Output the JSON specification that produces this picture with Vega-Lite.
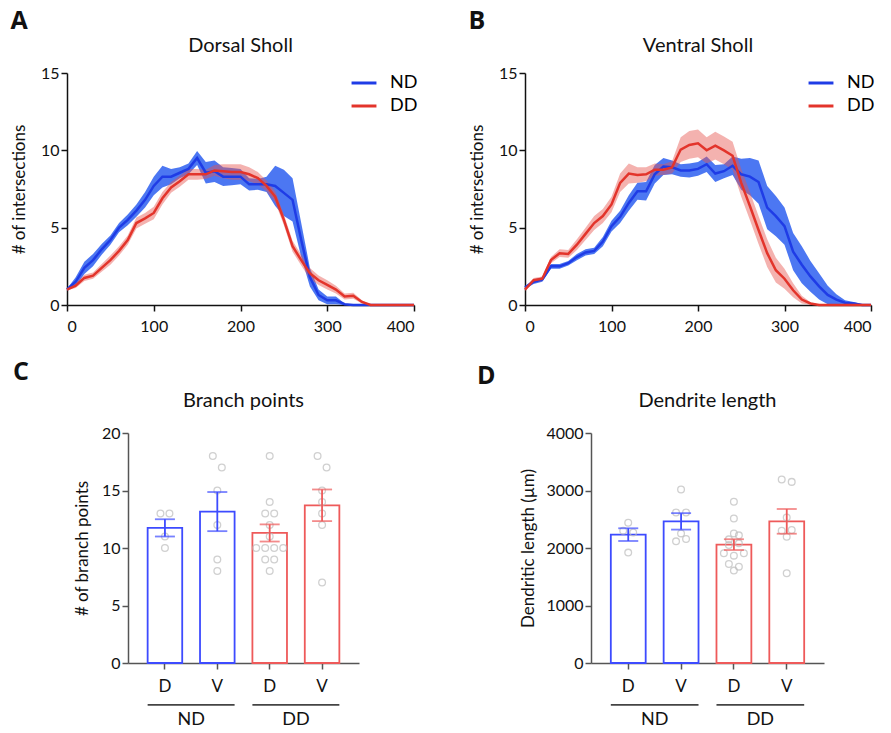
{
  "$schema": "https://vega.github.io/schema/vega-lite/v6.json",
  "padding": {"left": 10, "top": 9, "right": 5, "bottom": 2},
  "config": {
    "view": {"stroke": null},
    "font": "Lato",
    "axis": {"labelFontSize": 16, "titleFontSize": 17, "titleFontWeight": "normal", "labelColor": "#111", "titleColor": "#111", "domainColor": "#111", "tickColor": "#111", "grid": false, "domainWidth": 1.5, "tickWidth": 1.5, "tickSize": 6, "labelFont": "Lato", "titleFont": "Lato"},
    "title": {"fontSize": 20, "fontWeight": "normal", "font": "Lato", "color": "#111"},
    "legend": {"labelFont": "Lato"}
  },
  "datasets": {
    "dorsal": [
      {"r":0,"g":"ND","m":1.0,"lo":0.95,"hi":1.05},{"r":10,"g":"ND","m":1.5,"lo":1.2,"hi":1.8},{"r":20,"g":"ND","m":2.4,"lo":2.0,"hi":2.8},{"r":30,"g":"ND","m":2.9,"lo":2.5,"hi":3.3},{"r":40,"g":"ND","m":3.6,"lo":3.25,"hi":3.95},{"r":50,"g":"ND","m":4.2,"lo":3.9,"hi":4.5},{"r":60,"g":"ND","m":5.0,"lo":4.7,"hi":5.3},{"r":70,"g":"ND","m":5.5,"lo":5.15,"hi":5.85},{"r":80,"g":"ND","m":6.1,"lo":5.7,"hi":6.5},{"r":90,"g":"ND","m":6.8,"lo":6.3,"hi":7.3},{"r":100,"g":"ND","m":7.7,"lo":7.1,"hi":8.3},{"r":110,"g":"ND","m":8.3,"lo":7.6,"hi":9.0},{"r":120,"g":"ND","m":8.3,"lo":7.8,"hi":8.8},{"r":130,"g":"ND","m":8.55,"lo":8.2,"hi":8.9},{"r":140,"g":"ND","m":8.8,"lo":8.45,"hi":9.15},{"r":150,"g":"ND","m":9.5,"lo":9.05,"hi":9.95},{"r":160,"g":"ND","m":8.55,"lo":7.85,"hi":9.25},{"r":170,"g":"ND","m":8.65,"lo":7.95,"hi":9.35},{"r":180,"g":"ND","m":8.3,"lo":7.7,"hi":8.9},{"r":190,"g":"ND","m":8.3,"lo":7.75,"hi":8.85},{"r":200,"g":"ND","m":8.3,"lo":7.8,"hi":8.8},{"r":210,"g":"ND","m":7.8,"lo":7.4,"hi":8.2},{"r":220,"g":"ND","m":7.8,"lo":7.45,"hi":8.15},{"r":230,"g":"ND","m":7.8,"lo":7.3,"hi":8.3},{"r":240,"g":"ND","m":7.7,"lo":6.4,"hi":9.0},{"r":250,"g":"ND","m":7.25,"lo":5.75,"hi":8.75},{"r":260,"g":"ND","m":6.8,"lo":5.4,"hi":8.2},{"r":270,"g":"ND","m":4.2,"lo":3.1,"hi":5.3},{"r":280,"g":"ND","m":1.8,"lo":1.2,"hi":2.4},{"r":290,"g":"ND","m":0.65,"lo":0.3,"hi":1.0},{"r":300,"g":"ND","m":0.3,"lo":0.05,"hi":0.55},{"r":310,"g":"ND","m":0.3,"lo":0.05,"hi":0.55},{"r":320,"g":"ND","m":0.05,"lo":0,"hi":0.1},{"r":330,"g":"ND","m":0,"lo":0,"hi":0},{"r":340,"g":"ND","m":0,"lo":0,"hi":0},{"r":350,"g":"ND","m":0,"lo":0,"hi":0},{"r":360,"g":"ND","m":0,"lo":0,"hi":0},{"r":370,"g":"ND","m":0,"lo":0,"hi":0},{"r":380,"g":"ND","m":0,"lo":0,"hi":0},{"r":390,"g":"ND","m":0,"lo":0,"hi":0},{"r":400,"g":"ND","m":0,"lo":0,"hi":0},
      {"r":0,"g":"DD","m":1.0,"lo":0.95,"hi":1.05},{"r":10,"g":"DD","m":1.25,"lo":1.1,"hi":1.4},{"r":20,"g":"DD","m":1.75,"lo":1.55,"hi":1.95},{"r":30,"g":"DD","m":1.9,"lo":1.7,"hi":2.1},{"r":40,"g":"DD","m":2.4,"lo":2.15,"hi":2.65},{"r":50,"g":"DD","m":2.9,"lo":2.6,"hi":3.2},{"r":60,"g":"DD","m":3.5,"lo":3.2,"hi":3.8},{"r":70,"g":"DD","m":4.2,"lo":3.9,"hi":4.5},{"r":80,"g":"DD","m":5.3,"lo":4.95,"hi":5.65},{"r":90,"g":"DD","m":5.6,"lo":5.25,"hi":5.95},{"r":100,"g":"DD","m":5.95,"lo":5.55,"hi":6.35},{"r":110,"g":"DD","m":6.9,"lo":6.5,"hi":7.3},{"r":120,"g":"DD","m":7.6,"lo":7.25,"hi":7.95},{"r":130,"g":"DD","m":8.0,"lo":7.65,"hi":8.35},{"r":140,"g":"DD","m":8.45,"lo":8.1,"hi":8.8},{"r":150,"g":"DD","m":8.45,"lo":8.1,"hi":8.8},{"r":160,"g":"DD","m":8.45,"lo":8.15,"hi":8.75},{"r":170,"g":"DD","m":8.7,"lo":8.35,"hi":9.05},{"r":180,"g":"DD","m":8.65,"lo":8.2,"hi":9.1},{"r":190,"g":"DD","m":8.6,"lo":8.1,"hi":9.1},{"r":200,"g":"DD","m":8.6,"lo":8.1,"hi":9.1},{"r":210,"g":"DD","m":8.45,"lo":8.0,"hi":8.9},{"r":220,"g":"DD","m":8.2,"lo":7.8,"hi":8.6},{"r":230,"g":"DD","m":7.7,"lo":7.35,"hi":8.05},{"r":240,"g":"DD","m":7.0,"lo":6.65,"hi":7.35},{"r":250,"g":"DD","m":5.5,"lo":5.15,"hi":5.85},{"r":260,"g":"DD","m":3.8,"lo":3.45,"hi":4.15},{"r":270,"g":"DD","m":2.9,"lo":2.55,"hi":3.25},{"r":280,"g":"DD","m":2.05,"lo":1.7,"hi":2.4},{"r":290,"g":"DD","m":1.6,"lo":1.3,"hi":1.9},{"r":300,"g":"DD","m":1.3,"lo":1.0,"hi":1.6},{"r":310,"g":"DD","m":1.0,"lo":0.75,"hi":1.25},{"r":320,"g":"DD","m":0.55,"lo":0.35,"hi":0.75},{"r":330,"g":"DD","m":0.6,"lo":0.4,"hi":0.8},{"r":340,"g":"DD","m":0.2,"lo":0.1,"hi":0.3},{"r":350,"g":"DD","m":0,"lo":0,"hi":0},{"r":360,"g":"DD","m":0,"lo":0,"hi":0},{"r":370,"g":"DD","m":0,"lo":0,"hi":0},{"r":380,"g":"DD","m":0,"lo":0,"hi":0},{"r":390,"g":"DD","m":0,"lo":0,"hi":0},{"r":400,"g":"DD","m":0,"lo":0,"hi":0}
    ],
    "ventral": [
      {"r":0,"g":"ND","m":1.13,"lo":1.03,"hi":1.23},{"r":10,"g":"ND","m":1.5,"lo":1.35,"hi":1.65},{"r":20,"g":"ND","m":1.65,"lo":1.5,"hi":1.8},{"r":30,"g":"ND","m":2.5,"lo":2.35,"hi":2.65},{"r":40,"g":"ND","m":2.5,"lo":2.35,"hi":2.65},{"r":50,"g":"ND","m":2.7,"lo":2.55,"hi":2.85},{"r":60,"g":"ND","m":3.1,"lo":2.9,"hi":3.3},{"r":70,"g":"ND","m":3.4,"lo":3.2,"hi":3.6},{"r":80,"g":"ND","m":3.5,"lo":3.3,"hi":3.7},{"r":90,"g":"ND","m":4.1,"lo":3.8,"hi":4.4},{"r":100,"g":"ND","m":5.1,"lo":4.75,"hi":5.45},{"r":110,"g":"ND","m":5.7,"lo":5.3,"hi":6.1},{"r":120,"g":"ND","m":6.6,"lo":6.1,"hi":7.1},{"r":130,"g":"ND","m":7.35,"lo":6.8,"hi":7.9},{"r":140,"g":"ND","m":7.35,"lo":6.75,"hi":7.95},{"r":150,"g":"ND","m":8.45,"lo":7.85,"hi":9.05},{"r":160,"g":"ND","m":8.95,"lo":8.4,"hi":9.5},{"r":170,"g":"ND","m":8.9,"lo":8.45,"hi":9.35},{"r":180,"g":"ND","m":8.7,"lo":8.3,"hi":9.1},{"r":190,"g":"ND","m":8.7,"lo":8.25,"hi":9.15},{"r":200,"g":"ND","m":8.8,"lo":8.35,"hi":9.25},{"r":210,"g":"ND","m":9.1,"lo":8.6,"hi":9.6},{"r":220,"g":"ND","m":8.5,"lo":7.95,"hi":9.05},{"r":230,"g":"ND","m":8.65,"lo":8.2,"hi":9.1},{"r":240,"g":"ND","m":9.0,"lo":8.4,"hi":9.6},{"r":250,"g":"ND","m":8.45,"lo":7.45,"hi":9.45},{"r":260,"g":"ND","m":8.3,"lo":7.1,"hi":9.5},{"r":270,"g":"ND","m":7.95,"lo":6.55,"hi":9.35},{"r":280,"g":"ND","m":6.3,"lo":4.9,"hi":7.7},{"r":290,"g":"ND","m":5.75,"lo":4.45,"hi":7.05},{"r":300,"g":"ND","m":5.1,"lo":3.9,"hi":6.3},{"r":310,"g":"ND","m":3.45,"lo":2.25,"hi":4.65},{"r":320,"g":"ND","m":2.6,"lo":1.4,"hi":3.8},{"r":330,"g":"ND","m":1.85,"lo":0.85,"hi":2.85},{"r":340,"g":"ND","m":1.2,"lo":0.35,"hi":2.05},{"r":350,"g":"ND","m":0.65,"lo":0.05,"hi":1.25},{"r":360,"g":"ND","m":0.35,"lo":0,"hi":0.7},{"r":370,"g":"ND","m":0.15,"lo":0,"hi":0.3},{"r":380,"g":"ND","m":0.1,"lo":0,"hi":0.2},{"r":390,"g":"ND","m":0,"lo":0,"hi":0.05},{"r":400,"g":"ND","m":0,"lo":0,"hi":0},
      {"r":0,"g":"DD","m":1.0,"lo":0.9,"hi":1.1},{"r":10,"g":"DD","m":1.6,"lo":1.45,"hi":1.75},{"r":20,"g":"DD","m":1.7,"lo":1.55,"hi":1.85},{"r":30,"g":"DD","m":2.9,"lo":2.7,"hi":3.1},{"r":40,"g":"DD","m":3.35,"lo":3.1,"hi":3.6},{"r":50,"g":"DD","m":3.3,"lo":3.05,"hi":3.55},{"r":60,"g":"DD","m":3.9,"lo":3.55,"hi":4.25},{"r":70,"g":"DD","m":4.6,"lo":4.2,"hi":5.0},{"r":80,"g":"DD","m":5.3,"lo":4.85,"hi":5.75},{"r":90,"g":"DD","m":5.75,"lo":5.3,"hi":6.2},{"r":100,"g":"DD","m":6.5,"lo":6.0,"hi":7.0},{"r":110,"g":"DD","m":7.9,"lo":7.3,"hi":8.5},{"r":120,"g":"DD","m":8.5,"lo":7.85,"hi":9.15},{"r":130,"g":"DD","m":8.4,"lo":7.9,"hi":8.9},{"r":140,"g":"DD","m":8.45,"lo":8.0,"hi":8.9},{"r":150,"g":"DD","m":8.75,"lo":8.35,"hi":9.15},{"r":160,"g":"DD","m":8.75,"lo":8.4,"hi":9.1},{"r":170,"g":"DD","m":8.9,"lo":8.5,"hi":9.3},{"r":180,"g":"DD","m":10.05,"lo":9.25,"hi":10.85},{"r":190,"g":"DD","m":10.35,"lo":9.45,"hi":11.25},{"r":200,"g":"DD","m":10.45,"lo":9.55,"hi":11.35},{"r":210,"g":"DD","m":10.0,"lo":9.15,"hi":10.85},{"r":220,"g":"DD","m":10.3,"lo":9.4,"hi":11.2},{"r":230,"g":"DD","m":10.0,"lo":9.1,"hi":10.9},{"r":240,"g":"DD","m":9.65,"lo":8.75,"hi":10.55},{"r":250,"g":"DD","m":7.9,"lo":7.0,"hi":8.8},{"r":260,"g":"DD","m":6.4,"lo":5.5,"hi":7.3},{"r":270,"g":"DD","m":4.85,"lo":3.95,"hi":5.75},{"r":280,"g":"DD","m":3.35,"lo":2.45,"hi":4.25},{"r":290,"g":"DD","m":2.25,"lo":1.45,"hi":3.05},{"r":300,"g":"DD","m":1.7,"lo":1.05,"hi":2.35},{"r":310,"g":"DD","m":0.95,"lo":0.5,"hi":1.4},{"r":320,"g":"DD","m":0.35,"lo":0.1,"hi":0.6},{"r":330,"g":"DD","m":0.1,"lo":0.02,"hi":0.18},{"r":340,"g":"DD","m":0,"lo":0,"hi":0},{"r":350,"g":"DD","m":0,"lo":0,"hi":0},{"r":360,"g":"DD","m":0,"lo":0,"hi":0},{"r":370,"g":"DD","m":0,"lo":0,"hi":0},{"r":380,"g":"DD","m":0,"lo":0,"hi":0},{"r":390,"g":"DD","m":0,"lo":0,"hi":0},{"r":400,"g":"DD","m":0,"lo":0,"hi":0}
    ],
    "branch": [
      {"grp":"ND","cond":"ND D","v":13},{"grp":"ND","cond":"ND D","v":13},{"grp":"ND","cond":"ND D","v":11},{"grp":"ND","cond":"ND D","v":10},
      {"grp":"ND","cond":"ND V","v":18},{"grp":"ND","cond":"ND V","v":17},{"grp":"ND","cond":"ND V","v":15},{"grp":"ND","cond":"ND V","v":12},{"grp":"ND","cond":"ND V","v":9},{"grp":"ND","cond":"ND V","v":8},
      {"grp":"DD","cond":"DD D","v":18},{"grp":"DD","cond":"DD D","v":14},{"grp":"DD","cond":"DD D","v":13},{"grp":"DD","cond":"DD D","v":13},{"grp":"DD","cond":"DD D","v":12},{"grp":"DD","cond":"DD D","v":11},{"grp":"DD","cond":"DD D","v":10},{"grp":"DD","cond":"DD D","v":10},{"grp":"DD","cond":"DD D","v":10},{"grp":"DD","cond":"DD D","v":10},{"grp":"DD","cond":"DD D","v":9},{"grp":"DD","cond":"DD D","v":9},{"grp":"DD","cond":"DD D","v":8},
      {"grp":"DD","cond":"DD V","v":18},{"grp":"DD","cond":"DD V","v":17},{"grp":"DD","cond":"DD V","v":15},{"grp":"DD","cond":"DD V","v":14},{"grp":"DD","cond":"DD V","v":13},{"grp":"DD","cond":"DD V","v":12},{"grp":"DD","cond":"DD V","v":7}
    ],
    "length": [
      {"grp":"ND","cond":"ND D","v":2300},{"grp":"ND","cond":"ND D","v":2270},{"grp":"ND","cond":"ND D","v":2440},{"grp":"ND","cond":"ND D","v":1920},
      {"grp":"ND","cond":"ND V","v":3017},{"grp":"ND","cond":"ND V","v":2618},{"grp":"ND","cond":"ND V","v":2618},{"grp":"ND","cond":"ND V","v":2254},{"grp":"ND","cond":"ND V","v":2116},{"grp":"ND","cond":"ND V","v":2156},
      {"grp":"DD","cond":"DD D","v":2803},{"grp":"DD","cond":"DD D","v":2514},{"grp":"DD","cond":"DD D","v":2254},{"grp":"DD","cond":"DD D","v":2150},{"grp":"DD","cond":"DD D","v":2220},{"grp":"DD","cond":"DD D","v":2052},{"grp":"DD","cond":"DD D","v":2081},{"grp":"DD","cond":"DD D","v":1908},{"grp":"DD","cond":"DD D","v":1867},{"grp":"DD","cond":"DD D","v":1908},{"grp":"DD","cond":"DD D","v":1723},{"grp":"DD","cond":"DD D","v":1676},{"grp":"DD","cond":"DD D","v":1607},
      {"grp":"DD","cond":"DD V","v":3191},{"grp":"DD","cond":"DD V","v":3150},{"grp":"DD","cond":"DD V","v":2532},{"grp":"DD","cond":"DD V","v":2300},{"grp":"DD","cond":"DD V","v":2312},{"grp":"DD","cond":"DD V","v":2197},{"grp":"DD","cond":"DD V","v":1561}
    ],
    "groups": [{"grp":"ND","s":"ND D","e":"ND V"},{"grp":"DD","s":"DD D","e":"DD V"}]
  },
  "vconcat": [
    {
      "hconcat": [
        {
          "title": {"text": "A", "anchor": "start", "frame": "bounds", "fontSize": 25, "fontWeight": "bold", "font": "Open Sans", "offset": 2},
          "vconcat": [{
            "width": 347, "height": 232,
            "title": {"text": "Dorsal Sholl", "offset": 9},
            "data": {"name": "dorsal"},
            "encoding": {
              "x": {"field": "r", "type": "quantitative", "scale": {"domain": [0, 400], "nice": false}, "axis": {"values": [0,100,200,300,400], "title": null, "labelPadding": 7}}
            },
            "layer": [
              {"transform": [{"filter": "datum.g === 'ND'"}], "mark": {"type": "area", "color": "#2d5ff0", "opacity": 0.85}, "encoding": {
                "y": {"field": "lo", "type": "quantitative", "scale": {"domain": [0, 15], "nice": false}, "axis": {"values": [0,5,10,15], "titlePadding": 12}, "title": "# of intersections"},
                "y2": {"field": "hi"}
              }},
              {"transform": [{"filter": "datum.g === 'DD'"}], "mark": {"type": "area", "color": "#e6554e", "opacity": 0.45}, "encoding": {
                "y": {"field": "lo", "type": "quantitative", "title": "# of intersections"},
                "y2": {"field": "hi"}
              }},
              {"mark": {"type": "line", "strokeWidth": 2.5}, "encoding": {
                "y": {"field": "m", "type": "quantitative", "title": "# of intersections"},
                "color": {"field": "g", "type": "nominal", "scale": {"domain": ["ND","DD"], "range": ["#1f3ce6", "#e3342b"]},
                  "legend": {"title": null, "orient": "top-right", "offset": -4, "symbolType": "stroke", "symbolSize": 620, "symbolStrokeWidth": 3, "labelFontSize": 18, "rowPadding": -1, "labelOffset": 12}}
              }}
            ]
          }],
          "resolve": {"scale": {"color": "independent"}, "legend": {"color": "independent"}}
        },
        {
          "title": {"text": "B", "anchor": "start", "frame": "bounds", "fontSize": 25, "fontWeight": "bold", "font": "Open Sans", "offset": 2},
          "vconcat": [{
            "width": 346, "height": 232,
            "title": {"text": "Ventral Sholl", "offset": 9},
            "data": {"name": "ventral"},
            "encoding": {
              "x": {"field": "r", "type": "quantitative", "scale": {"domain": [0, 400], "nice": false}, "axis": {"values": [0,100,200,300,400], "title": null, "labelPadding": 7}}
            },
            "layer": [
              {"transform": [{"filter": "datum.g === 'ND'"}], "mark": {"type": "area", "color": "#2d5ff0", "opacity": 0.85}, "encoding": {
                "y": {"field": "lo", "type": "quantitative", "scale": {"domain": [0, 15], "nice": false}, "axis": {"values": [0,5,10,15], "titlePadding": 12}, "title": "# of intersections"},
                "y2": {"field": "hi"}
              }},
              {"transform": [{"filter": "datum.g === 'DD'"}], "mark": {"type": "area", "color": "#e6554e", "opacity": 0.45}, "encoding": {
                "y": {"field": "lo", "type": "quantitative", "title": "# of intersections"},
                "y2": {"field": "hi"}
              }},
              {"mark": {"type": "line", "strokeWidth": 2.5}, "encoding": {
                "y": {"field": "m", "type": "quantitative", "title": "# of intersections"},
                "color": {"field": "g", "type": "nominal", "scale": {"domain": ["ND","DD"], "range": ["#1f3ce6", "#e3342b"]},
                  "legend": {"title": null, "orient": "top-right", "offset": -4, "symbolType": "stroke", "symbolSize": 620, "symbolStrokeWidth": 3, "labelFontSize": 18, "rowPadding": -1, "labelOffset": 12}}
              }}
            ]
          }],
          "resolve": {"scale": {"color": "independent"}, "legend": {"color": "independent"}}
        }
      ],
      "spacing": 49,
      "resolve": {"scale": {"color": "independent"}, "legend": {"color": "independent"}}
    },
    {
      "hconcat": [
        {
          "hconcat": [
            {
              "width": 6, "height": 230,
              "title": {"text": "C", "anchor": "start", "fontSize": 25, "fontWeight": "bold", "font": "Open Sans", "offset": 48, "dx": -54},
              "data": {"values": []},
              "mark": "point",
              "encoding": {}
            },
            {
              "width": 231, "height": 230,
              "title": {"text": "Branch points", "offset": 14},
              "layer": [
                {
                  "data": {"name": "branch"},
                  "transform": [
                    {"bin": {"step": 1}, "field": "v", "as": "vb"},
                    {"window": [{"op": "row_number", "as": "k"}, {"op": "count", "as": "n"}], "groupby": ["cond", "vb"], "frame": [null, null]},
                    {"calculate": "datum.k - (datum.n + 1) / 2", "as": "off"}
                  ],
                  "layer": [
                    {"mark": {"type": "bar", "fill": "white", "strokeWidth": 1.8}, "encoding": {
                      "x": {"field": "cond", "type": "nominal", "scale": {"type": "band", "domain": ["ND D","ND V","DD D","DD V"], "paddingInner": 0.34, "paddingOuter": 0.375}, "axis": {"title": null, "labelExpr": "slice(datum.label, -1)", "labelAngle": 0, "labelFontSize": 17, "labelPadding": 9, "domainColor": "#555", "tickColor": "#555"}},
                      "y": {"aggregate": "mean", "field": "v", "type": "quantitative", "title": "# of branch points", "scale": {"domain": [0, 20], "nice": false}, "axis": {"values": [0,5,10,15,20], "titlePadding": 10, "domainColor": "#555", "tickColor": "#555"}},
                      "stroke": {"field": "grp", "type": "nominal", "scale": {"domain": ["ND","DD"], "range": ["#3d4bff", "#ee5a5a"]}, "legend": null}
                    }},
                    {"mark": {"type": "point", "shape": "circle", "filled": false, "stroke": "#bdbdbd", "strokeWidth": 1.3, "size": 45}, "encoding": {
                      "x": {"field": "cond", "type": "nominal"},
                      "xOffset": {"field": "off", "type": "quantitative", "scale": {"domain": [-1, 1], "range": [8.3, 26.3]}},
                      "y": {"field": "v", "type": "quantitative", "title": "# of branch points"}
                    }},
                    {"mark": {"type": "errorbar", "extent": "stderr", "ticks": {"size": 20}, "thickness": 1.8}, "encoding": {
                      "x": {"field": "cond", "type": "nominal"},
                      "y": {"field": "v", "type": "quantitative", "title": "# of branch points"},
                      "color": {"field": "grp", "type": "nominal", "scale": {"domain": ["ND","DD"], "range": ["#3d4bff", "#ee5a5a"]}, "legend": null}
                    }}
                  ],
                  "resolve": {"scale": {"xOffset": "independent"}}
                },
                {
                  "data": {"name": "groups"},
                  "layer": [
                    {"mark": {"type": "rule", "color": "#444", "strokeWidth": 1.7}, "encoding": {
                      "x": {"field": "s", "type": "nominal", "bandPosition": 0},
                      "x2": {"field": "e", "bandPosition": 1},
                      "y": {"datum": -3.65}
                    }},
                    {"mark": {"type": "text", "fontSize": 18, "color": "#111", "baseline": "middle"}, "encoding": {
                      "x": {"field": "s", "type": "nominal", "bandPosition": 1.258},
                      "y": {"datum": -4.96},
                      "text": {"field": "grp"}
                    }}
                  ]
                }
              ],
              "resolve": {"scale": {"xOffset": "independent"}}
            }
          ],
          "spacing": 0
        },
        {
          "title": {"text": "D", "anchor": "start", "frame": "bounds", "fontSize": 25, "fontWeight": "bold", "font": "Open Sans", "offset": 2, "dx": -43},
          "vconcat": [{
            "width": 233, "height": 230,
            "title": {"text": "Dendrite length", "offset": 14},
            "layer": [
              {
                "data": {"name": "length"},
                "transform": [
                  {"bin": {"step": 150}, "field": "v", "as": "vb"},
                  {"window": [{"op": "row_number", "as": "k"}, {"op": "count", "as": "n"}], "groupby": ["cond", "vb"], "frame": [null, null]},
                  {"calculate": "datum.k - (datum.n + 1) / 2", "as": "off"}
                ],
                "layer": [
                  {"mark": {"type": "bar", "fill": "white", "strokeWidth": 1.8}, "encoding": {
                    "x": {"field": "cond", "type": "nominal", "scale": {"type": "band", "domain": ["ND D","ND V","DD D","DD V"], "paddingInner": 0.34, "paddingOuter": 0.375}, "axis": {"title": null, "labelExpr": "slice(datum.label, -1)", "labelAngle": 0, "labelFontSize": 17, "labelPadding": 9, "domainColor": "#555", "tickColor": "#555"}},
                    "y": {"aggregate": "mean", "field": "v", "type": "quantitative", "title": "Dendritic length (µm)", "scale": {"domain": [0, 4000], "nice": false}, "axis": {"values": [0,1000,2000,3000,4000], "format": "d", "titlePadding": 8, "domainColor": "#555", "tickColor": "#555"}},
                    "stroke": {"field": "grp", "type": "nominal", "scale": {"domain": ["ND","DD"], "range": ["#3d4bff", "#ee5a5a"]}, "legend": null}
                  }},
                  {"mark": {"type": "point", "shape": "circle", "filled": false, "stroke": "#bdbdbd", "strokeWidth": 1.3, "size": 45}, "encoding": {
                    "x": {"field": "cond", "type": "nominal"},
                    "xOffset": {"field": "off", "type": "quantitative", "scale": {"domain": [-1, 1], "range": [7.4, 27.4]}},
                    "y": {"field": "v", "type": "quantitative", "title": "Dendritic length (µm)"}
                  }},
                  {"mark": {"type": "errorbar", "extent": "stderr", "ticks": {"size": 20}, "thickness": 1.8}, "encoding": {
                    "x": {"field": "cond", "type": "nominal"},
                    "y": {"field": "v", "type": "quantitative", "title": "Dendritic length (µm)"},
                    "color": {"field": "grp", "type": "nominal", "scale": {"domain": ["ND","DD"], "range": ["#3d4bff", "#ee5a5a"]}, "legend": null}
                  }}
                ],
                "resolve": {"scale": {"xOffset": "independent"}}
              },
              {
                "data": {"name": "groups"},
                "layer": [
                  {"mark": {"type": "rule", "color": "#444", "strokeWidth": 1.7}, "encoding": {
                    "x": {"field": "s", "type": "nominal", "bandPosition": 0},
                    "x2": {"field": "e", "bandPosition": 1},
                    "y": {"datum": -730}
                  }},
                  {"mark": {"type": "text", "fontSize": 18, "color": "#111", "baseline": "middle"}, "encoding": {
                    "x": {"field": "s", "type": "nominal", "bandPosition": 1.258},
                    "y": {"datum": -990},
                    "text": {"field": "grp"}
                  }}
                ]
              }
            ],
            "resolve": {"scale": {"xOffset": "independent"}}
          }]
        }
      ],
      "spacing": 117
    }
  ],
  "spacing": 26,
  "resolve": {"scale": {"color": "independent", "stroke": "independent"}, "legend": {"color": "independent"}}
}
